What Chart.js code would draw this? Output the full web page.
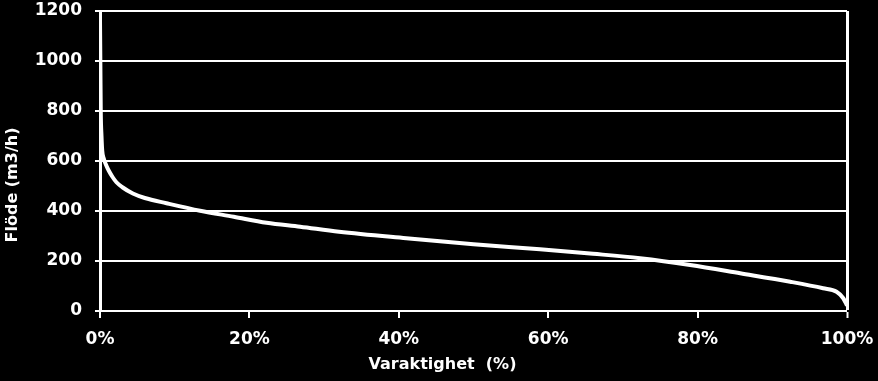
<!DOCTYPE html>
<html>
<head>
<meta charset="utf-8">
<script src="https://cdn.jsdelivr.net/npm/chart.js@4/dist/chart.umd.min.js"></script>
<style>
html,body{margin:0;padding:0;background:#000;}
#wrap{width:878px;height:381px;position:relative;}
</style>
</head>
<body>
<div id="wrap"><canvas id="c" width="878" height="381"></canvas></div>
<script>
const durationPct = [0, 0.05, 0.1, 0.2, 0.3, 0.5, 0.8, 1.2, 1.7, 2.2, 3, 4.4, 6, 8.9, 13.4, 17.9, 22.3, 26.8, 32, 41, 50, 58.9, 66, 72.3, 79, 85.7, 92.4, 96.8, 98.6, 99.5, 100];
const flow = [1160, 980, 800, 700, 640, 610, 585, 560, 535, 515, 495, 470, 452, 431, 401, 377, 353, 337, 317, 291, 267, 247, 229, 211, 184, 151, 117, 91, 77, 51, 22];
const xTicks = [0, 20, 40, 60, 80, 100];
const yTicks = [0, 200, 400, 600, 800, 1000, 1200];
const xTitle = 'Varaktighet  (%)';
const yTitle = 'Flöde (m3/h)';

const FONT = 'DejaVu Sans';
const points = durationPct.map((x, i) => ({x: x, y: flow[i]}));

const titlesPlugin = {
  id: 'axisTitles',
  afterDraw(chart) {
    const ctx = chart.ctx;
    const ys = chart.scales.y;
    const xs = chart.scales.x;
    ctx.save();
    ctx.fillStyle = '#fff';
    ctx.font = 'bold 16px "' + FONT + '"';
    ctx.textAlign = 'center';
    ctx.textBaseline = 'middle';
    ctx.fillText(xTitle, (xs.left + xs.right) / 2 - 31, 365);
    ctx.translate(13, (ys.top + ys.bottom) / 2 + 24);
    ctx.rotate(-Math.PI / 2);
    ctx.fillText(yTitle, 0, 0);
    ctx.restore();
  }
};

new Chart(document.getElementById('c'), {
  type: 'line',
  data: {
    datasets: [{
      data: points,
      borderColor: '#fff',
      borderWidth: 4,
      pointRadius: 0,
      fill: false,
      cubicInterpolationMode: 'monotone'
    }]
  },
  options: {
    responsive: false,
    animation: false,
    events: [],
    layout: {padding: {left: 0, top: 11, right: 31, bottom: 0}},
    plugins: {legend: {display: false}, tooltip: {enabled: false}},
    scales: {
      x: {
        type: 'linear',
        min: 0, max: 100,
        afterBuildTicks: s => { s.ticks = xTicks.map(v => ({value: v})); },
        afterFit: s => { s.height = 70; s.paddingLeft = 0; s.paddingRight = 0; },
        ticks: {
          color: '#fff',
          font: {family: FONT, size: 17, weight: 'bold'},
          padding: 11,
          maxRotation: 0,
          callback: v => v + '%'
        },
        grid: {
          drawOnChartArea: true,
          color: c => (c.tick && c.tick.value === 100) ? '#fff' : 'rgba(0,0,0,0)',
          lineWidth: c => (c.tick && c.tick.value === 100) ? 3 : 0,
          tickColor: '#fff',
          tickWidth: 2,
          tickLength: 7
        },
        border: {display: true, color: '#fff', width: 2},
        title: {display: false}
      },
      y: {
        min: 0, max: 1200,
        afterBuildTicks: s => { s.ticks = yTicks.map(v => ({value: v})); },
        afterFit: s => { s.width = 100; s.paddingTop = 0; s.paddingBottom = 0; },
        ticks: {
          color: '#fff',
          font: {family: FONT, size: 17, weight: 'bold'},
          padding: 13,
          callback: v => String(v)
        },
        grid: {
          color: '#fff',
          lineWidth: 2,
          tickColor: '#fff',
          tickLength: 5
        },
        border: {display: true, color: '#fff', width: 3}
      }
    }
  },
  plugins: [titlesPlugin]
});
</script>
</body>
</html>
